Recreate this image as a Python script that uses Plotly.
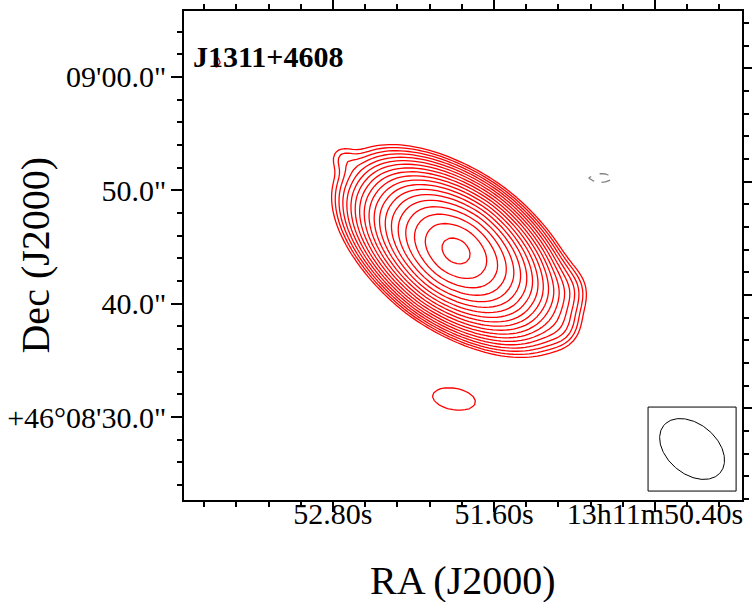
import numpy as np
import plotly.graph_objects as go

# ---------------- axes ----------------
ra_range = [53.91, 49.752]        # RA seconds of 13h11m, left -> right
dec_range = [22.68, 65.82]        # arcsec past +46d08'00"
ra_major = [52.80, 51.60, 50.40]
ra_major_text = ["52.80s", "51.60s", "13h11m50.40s"]
ra_minor_step = 0.24
dec_major = [30, 40, 50, 60]
dec_major_text = ["+46°08'30.0\"", "40.0\"", "50.0\"", "09'00.0\""]
dec_minor_step = 2
right_axis_shift = -0.77          # right-hand Dec ticks sit slightly higher
arcsec_per_s = 11.84              # display arcsec per RA second

# ---------------- source model components ----------------
# RA (s), Dec ("), peak (units of lowest contour), scale major ("), scale minor ("),
# PA (deg), profile exponent along major, along minor
comp_ra = [51.883, 52.725, 51.071, 51.108, 51.898, 50.803, 53.665]
comp_dec = [44.648, 52.85, 41.21, 37.85, 31.59, 51.09, 61.32]
comp_peak = [567.0, 1.0, 1.5, 1.2, 1.3, -1.5, 1.6]
comp_smaj = [3.18, 0.95, 1.32, 1.06, 2.65, 1.18, 0.5]
comp_smin = [2.16, 0.8, 1.32, 1.06, 1.32, 0.42, 0.3]
comp_pa = [53.5, 53.5, 0.0, 0.0, 80.0, 90.0, 0.0]
comp_pmaj = [1.85, 2, 2, 2, 2, 2, 2]
comp_pmin = [2.15, 2, 2, 2, 2, 2, 2]

# contour levels: lowest * sqrt(2)^k, k = 0..18
n_levels = 19
neg_level = 1.0

# restoring beam
beam_ra, beam_dec = 50.124, 27.18
beam_maj, beam_min, beam_pa = 6.5, 4.4, 50.0
beam_box_ra = [50.452, 49.796]
beam_box_dec = [23.47, 30.88]

source_name = "J1311+4608"

# ---------------- build map ----------------
ra_grid = np.linspace(ra_range[1], ra_range[0], 140)
dec_grid = np.linspace(dec_range[0], dec_range[1], 124)
RA, DEC = np.meshgrid(ra_grid, dec_grid)
img = np.zeros_like(RA)
for ra_c, dec_c, pk, sa, sb, pa, pu, pv in zip(comp_ra, comp_dec, comp_peak, comp_smaj,
                                                comp_smin, comp_pa, comp_pmaj, comp_pmin):
    dx = (RA - ra_c) * arcsec_per_s
    dy = DEC - dec_c
    t = np.radians(pa)
    u = dx * np.sin(t) + dy * np.cos(t)
    v = dx * np.cos(t) - dy * np.sin(t)
    img += pk * np.exp(-0.5 * (np.abs(u / sa) ** pu + np.abs(v / sb) ** pv))

pos_z = 2 * np.log2(np.clip(img, 1e-6, None))
neg_z = -img

fig = go.Figure()
fig.add_trace(go.Contour(
    x=ra_grid, y=dec_grid, z=pos_z,
    contours=dict(start=0, end=n_levels - 1, size=1, coloring="none"),
    line=dict(color="#ff0000", width=1.3, smoothing=0),
    showscale=False, hoverinfo="skip"))
fig.add_trace(go.Contour(
    x=ra_grid, y=dec_grid, z=neg_z,
    contours=dict(start=neg_level, end=neg_level + 0.5, size=1, coloring="none"),
    line=dict(color="#808080", width=1.3, dash="dash", smoothing=0),
    showscale=False, hoverinfo="skip"))

# beam ellipse
tt = np.linspace(0, 2 * np.pi, 200)
pa = np.radians(beam_pa)
mj = beam_maj / 2 * np.cos(tt)
mn = beam_min / 2 * np.sin(tt)
bx = beam_ra + (mj * np.sin(pa) + mn * np.cos(pa)) / arcsec_per_s
by = beam_dec + (mj * np.cos(pa) - mn * np.sin(pa))
fig.add_trace(go.Scatter(x=bx, y=by, mode="lines", line=dict(color="black", width=1),
                         hoverinfo="skip", showlegend=False))
fig.add_trace(go.Scatter(x=[None], y=[None], yaxis="y2", showlegend=False))

fig.add_shape(type="rect", xref="x", yref="y",
              x0=beam_box_ra[0], x1=beam_box_ra[1], y0=beam_box_dec[0], y1=beam_box_dec[1],
              line=dict(color="black", width=1))

ra_minor = list(np.round(np.arange(ra_major[-1] - 2 * ra_minor_step * 5, ra_range[0] + 0.01, ra_minor_step), 3))
dec_minor = list(np.arange(20, 68, dec_minor_step))

font = "Liberation Serif"
fig.update_layout(
    width=756, height=602,
    margin=dict(l=184, r=14, t=11, b=102),
    paper_bgcolor="white", plot_bgcolor="white",
    showlegend=False,
    font=dict(family=font, color="black"),
    xaxis=dict(range=ra_range, tickmode="array", tickvals=ra_major, ticktext=ra_major_text,
               ticks="outside", ticklen=10, tickwidth=2, tickcolor="black", automargin=False,
               showline=True, linewidth=1.5, linecolor="black", mirror="ticks",
               showgrid=False, zeroline=False, tickfont=dict(size=30, family=font),
               ticklabelstandoff=-24,
               minor=dict(tickvals=ra_minor, ticks="outside", ticklen=5, tickwidth=2,
                          tickcolor="black", showgrid=False)),
    yaxis=dict(range=dec_range, tickmode="array", tickvals=dec_major, ticktext=dec_major_text,
               ticks="outside", ticklen=11, tickwidth=2, tickcolor="black", automargin=False,
               showline=True, linewidth=1.5, linecolor="black", mirror=False,
               showgrid=False, zeroline=False, tickfont=dict(size=30, family=font),
               ticklabelstandoff=-1,
               minor=dict(tickvals=dec_minor, ticks="outside", ticklen=5, tickwidth=2,
                          tickcolor="black", showgrid=False)),
    yaxis2=dict(range=[dec_range[0] + right_axis_shift, dec_range[1] + right_axis_shift],
                overlaying="y", side="right", tickmode="array", tickvals=dec_major,
                showticklabels=False, ticks="outside", ticklen=8, tickwidth=2, tickcolor="black",
                showline=True, linewidth=1.5, linecolor="black", showgrid=False, zeroline=False,
                automargin=False,
                minor=dict(tickvals=dec_minor, ticks="outside", ticklen=5, tickwidth=2,
                           tickcolor="black", showgrid=False)),
    annotations=[
        dict(text="RA (J2000)", xref="paper", yref="paper", x=0.5, y=-0.1636,
             xanchor="center", yanchor="middle", showarrow=False, font=dict(size=40, family=font)),
        dict(text="Dec (J2000)", xref="paper", yref="paper", x=-0.267, y=0.5, textangle=-90,
             xanchor="center", yanchor="middle", showarrow=False, font=dict(size=40, family=font)),
        dict(text="<b>" + source_name + "</b>", xref="paper", yref="paper", x=0.0125, y=0.906,
             xanchor="left", yanchor="middle", showarrow=False, font=dict(size=30, family=font)),
    ],
)

fig.write_html("out.html", config={"displayModeBar": False},
               post_script="document.body.style.margin='0';document.body.style.overflow='hidden';")
